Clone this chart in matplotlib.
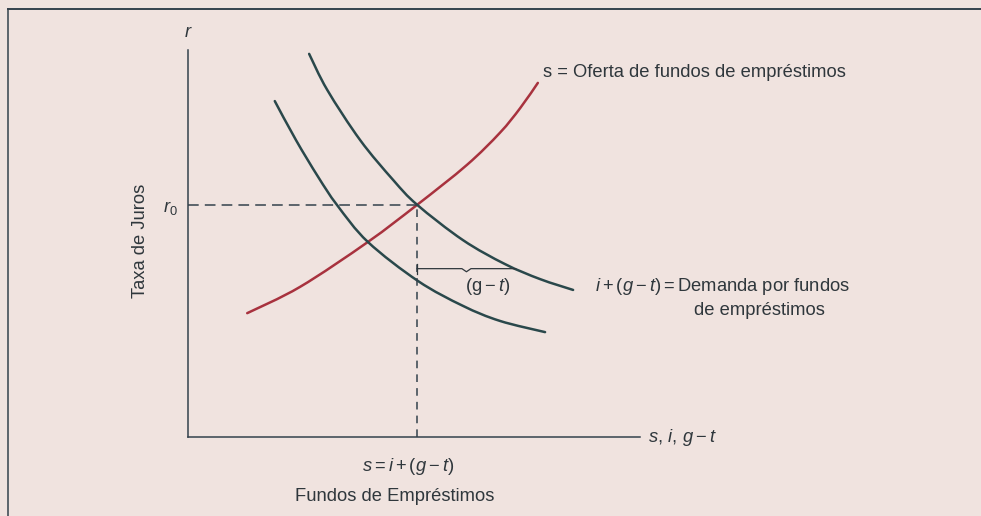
import matplotlib.pyplot as plt
from matplotlib.lines import Line2D
from matplotlib.path import Path
from matplotlib.patches import PathPatch
import numpy as np

plt.rcParams["font.family"] = ["Liberation Sans", "DejaVu Sans"]
plt.rcParams["mathtext.fontset"] = "custom"
plt.rcParams["mathtext.rm"] = "Liberation Sans"
plt.rcParams["mathtext.it"] = "Liberation Sans:italic"

# loanable funds market (quantity on x, interest rate on y)
supply_x = [1.31, 2.48, 3.98, 5.07, 6.17, 6.90, 7.35, 7.74]
supply_y = [3.20, 3.88, 5.04, 6.00, 7.03, 7.86, 8.50, 9.15]

demand_total_x = [2.68, 3.08, 3.81, 4.54, 5.07, 6.08, 7.01, 7.79, 8.52]
demand_total_y = [9.90, 8.97, 7.67, 6.64, 6.00, 5.09, 4.47, 4.08, 3.80]

demand_inv_x = [1.92, 2.39, 2.88, 3.30, 3.98, 5.09, 6.08, 6.90, 7.90]
demand_inv_y = [8.68, 7.67, 6.72, 5.99, 5.04, 4.03, 3.39, 3.00, 2.71]

eq_x = 5.07
r0 = 6.0
gap_y = 4.35

bg = "#f0e3df"
ink = "#2f373c"
axis_col = "#34424c"
green = "#2a484b"
red = "#a8323e"


def smooth_curve(ax, xs, ys, **kw):
    # bezier path through every point (catmull-rom tangents)
    pts = np.column_stack([xs, ys])
    verts = [pts[0]]
    codes = [Path.MOVETO]
    n = len(pts)
    for k in range(n - 1):
        p0 = pts[max(k - 1, 0)]
        p1 = pts[k]
        p2 = pts[k + 1]
        p3 = pts[min(k + 2, n - 1)]
        verts += [p1 + (p2 - p0) / 6, p2 - (p3 - p1) / 6, p2]
        codes += [Path.CURVE4] * 3
    ax.add_patch(PathPatch(Path(verts, codes), facecolor="none", capstyle="round", **kw))


fig = plt.figure(figsize=(9.81, 5.16), dpi=100, facecolor=bg)

# box border of the figure panel
fig.add_artist(Line2D([8 / 981, 8 / 981], [0, 1 - 9 / 516], color=axis_col, lw=1.1))
fig.add_artist(Line2D([8 / 981, 1], [1 - 9 / 516, 1 - 9 / 516], color=axis_col, lw=1.4))

ax = fig.add_axes([188 / 981, 79 / 516, 452 / 981, 387 / 516])
ax.set_facecolor("none")
ax.set_xlim(0, 10)
ax.set_ylim(0, 10)
for side in ["top", "right"]:
    ax.spines[side].set_visible(False)
for side in ["left", "bottom"]:
    ax.spines[side].set_color(axis_col)
    ax.spines[side].set_linewidth(1.1)
ax.set_xticks([])
ax.set_yticks([])

smooth_curve(ax, supply_x, supply_y, edgecolor=red, lw=1.8)
smooth_curve(ax, demand_total_x, demand_total_y, edgecolor=green, lw=1.8)
smooth_curve(ax, demand_inv_x, demand_inv_y, edgecolor=green, lw=1.8)

# equilibrium guides
ax.plot([0, eq_x], [r0, r0], color=axis_col, lw=1.1, dashes=(7, 4))
ax.plot([eq_x, eq_x], [0, r0], color=axis_col, lw=1.1, dashes=(5, 4))

# (g - t) bracket between the two demand curves
right_x = np.interp(gap_y, demand_total_y[::-1], demand_total_x[::-1])
mid_x = (eq_x + right_x) / 2
ax.plot([eq_x, eq_x], [gap_y - 0.13, gap_y + 0.13], color=ink, lw=0.9)
ax.plot([eq_x, mid_x - 0.1, mid_x, mid_x + 0.1, right_x],
        [gap_y, gap_y, gap_y - 0.08, gap_y, gap_y], color=ink, lw=0.9)

fs = 13.2
ax.text(0, 10.44, "$r$", fontsize=fs, color=ink, ha="center", va="center")
ax.text(-0.40, r0 - 0.08, "$r_0$", fontsize=fs, color=ink, ha="center", va="center")
ax.text(-1.05, 5.06, "Taxa de Juros", fontsize=fs, color=ink, rotation=90,
        ha="center", va="center")
ax.text(10.18, 0, r"$s,\, i,\, g - t$", fontsize=fs, color=ink, ha="left", va="center")
ax.text(4.87, -0.75, r"$s = i + (g - t)$", fontsize=fs, color=ink, ha="center", va="center")
ax.text(4.58, -1.55, "Fundos de Empréstimos", fontsize=fs, color=ink, ha="center", va="center")
ax.text(7.85, 9.41, "s = Oferta de fundos de empréstimos", fontsize=fs, color=ink,
        ha="left", va="center")
ax.text(9.0, 3.90, r"$i + (g - t) =$Demanda por fundos", fontsize=fs, color=ink,
        ha="left", va="center")
ax.text(11.19, 3.28, "de empréstimos", fontsize=fs, color=ink, ha="left", va="center")
ax.text(6.62, 3.88, r"$(\mathrm{g} - t)$", fontsize=fs, color=ink, ha="center", va="center")

fig.savefig("out.png", dpi=100, facecolor=fig.get_facecolor())
